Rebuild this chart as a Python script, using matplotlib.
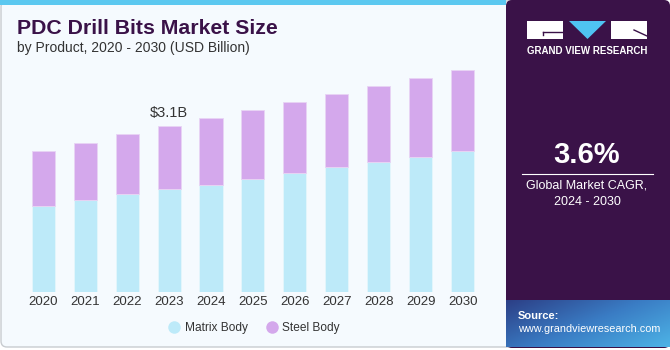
import numpy as np
import matplotlib.pyplot as plt
from matplotlib.colors import LinearSegmentedColormap
from matplotlib.patches import Rectangle, Polygon, FancyBboxPatch
from matplotlib.lines import Line2D

plt.rcParams['font.family'] = ['Liberation Sans', 'DejaVu Sans']

years = ['2020', '2021', '2022', '2023', '2024', '2025',
         '2026', '2027', '2028', '2029', '2030']
matrix_body = [1.61, 1.72, 1.83, 1.92, 2.01, 2.12, 2.22, 2.33, 2.43, 2.53, 2.64]
steel_body = [1.02, 1.07, 1.13, 1.18, 1.24, 1.28, 1.33, 1.37, 1.43, 1.48, 1.52]
label_year = '2023'
label_text = '$3.1B'
cagr = '3.6%'

matrix_color = '#BDEAF9'
steel_color = '#D4A8EC'
purple = '#3A1248'
text_color = '#333333'

W, H = 670, 350
fig = plt.figure(figsize=(W / 100, H / 100), dpi=100)
fig.patch.set_facecolor('white')

# decoration layer in pixel coordinates
bg = fig.add_axes([0, 0, 1, 1])
bg.axis('off')

bg.add_patch(FancyBboxPatch((1, 1), 660, 346, boxstyle='round,pad=0,rounding_size=6',
                            facecolor='#F5FAFE', edgecolor='#C8CCD0', lw=1))
bg.add_patch(Rectangle((0, 0), 506, 5, facecolor='#5BC8F0', edgecolor='none'))
bg.add_patch(FancyBboxPatch((506, 0), 164, 348, boxstyle='round,pad=0,rounding_size=6',
                            facecolor=purple, edgecolor='none'))

# source box gradient
grad = np.linspace(0, 1, 200)[None, :] * 0.6 + np.linspace(0, 1, 60)[:, None] * 0.4
src_cmap = LinearSegmentedColormap.from_list('src', ['#2C3F86', '#3A7CC4', '#4DB3E6'])
bg.imshow(grad, extent=(506, 670, 347, 300), cmap=src_cmap, aspect='auto', zorder=2)
bg.set_xlim(0, W)
bg.set_ylim(H, 0)

# logo
bg.add_patch(Rectangle((527, 21), 36, 18, facecolor='white', edgecolor='none', zorder=3))
bg.plot([543, 563], [32, 32], color=purple, lw=1, zorder=4)
bg.plot([543, 543], [32, 35], color=purple, lw=1, zorder=4)
bg.add_patch(Polygon([(569, 21), (606, 21), (587.5, 39)], closed=True,
                     facecolor='#4FC3F2', edgecolor='none', zorder=3))
bg.add_patch(Rectangle((611, 21), 36, 18, facecolor='white', edgecolor='none', zorder=3))
bg.plot([634, 647], [30, 36], color=purple, lw=1, zorder=4)
bg.text(587, 51, 'GRAND VIEW RESEARCH', color='white', fontsize=7, fontweight='bold',
        ha='center', va='center', zorder=4)

bg.text(587, 155, cagr, color='white', fontsize=21, fontweight='bold', ha='center', va='center')
bg.plot([522, 653], [173.5, 173.5], color='white', lw=0.8)
bg.text(587, 186, 'Global Market CAGR,', color='white', fontsize=9, ha='center', va='center')
bg.text(587, 202, '2024 - 2030', color='white', fontsize=9, ha='center', va='center')

bg.text(518, 316, 'Source:', color='white', fontsize=8, fontweight='bold', va='center', zorder=4)
bg.text(518, 329, 'www.grandviewresearch.com', color='white', fontsize=7.8, va='center', zorder=4)

bg.text(17, 28, 'PDC Drill Bits Market Size', color=purple, fontsize=15.3,
        fontweight='bold', va='center')
bg.text(17, 48, 'by Product, 2020 - 2030 (USD Billion)', color=text_color,
        fontsize=10, va='center')

# chart
base_px, top_px, spacing, first_px = 292, 60, 41.95, 43.2
ax = fig.add_axes([0, (H - base_px) / H, 506 / W, (base_px - top_px) / H])
ax.patch.set_alpha(0)
x = np.arange(len(years))
ax.bar(x, matrix_body, width=0.55, color=matrix_color, edgecolor='#E4F6FC', lw=0.6)
ax.bar(x, steel_body, width=0.55, bottom=matrix_body, color=steel_color,
       edgecolor='#E8D4F4', lw=0.6)
ax.set_xlim(-first_px / spacing, (506 - first_px) / spacing)
ax.set_ylim(0, (base_px - top_px) / 53.45)
ax.set_xticks(x)
ax.set_xticklabels(years, fontsize=9.5, color=text_color)
ax.tick_params(axis='x', length=0, pad=3)
ax.set_yticks([])
for s in ax.spines.values():
    s.set_visible(False)

i = years.index(label_year)
ax.text(i, matrix_body[i] + steel_body[i] + 0.12, label_text, ha='center', va='bottom',
        fontsize=10.5, color=text_color)

handles = [Line2D([], [], marker='o', ls='none', markersize=9, markerfacecolor=c,
                  markeredgecolor='none') for c in (matrix_color, steel_color)]
fig.legend(handles, ['Matrix Body', 'Steel Body'], loc='center',
           bbox_to_anchor=(254 / W, 1 - 328 / H), ncol=2, frameon=False,
           fontsize=8.6, handlelength=1.0, handletextpad=0.4, columnspacing=1.5,
           labelcolor=text_color)

fig.savefig('out.png', dpi=100, facecolor=fig.get_facecolor())
